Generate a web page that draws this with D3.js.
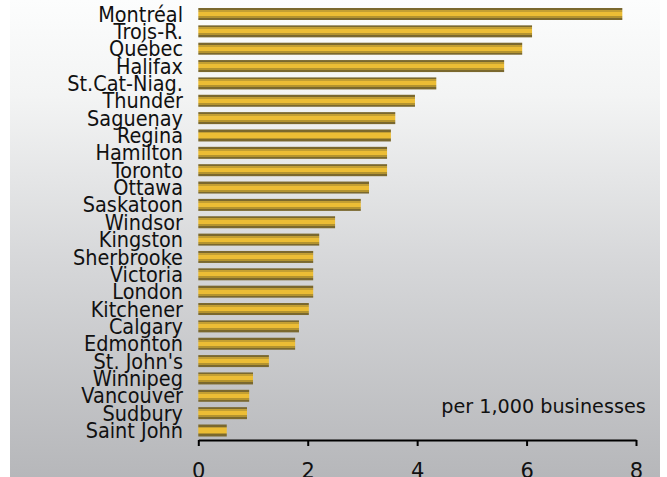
<!DOCTYPE html>
<html>
<head>
<meta charset="utf-8">
<script src="https://cdn.jsdelivr.net/npm/d3@7"></script>
<style>
  html, body { margin: 0; padding: 0; background: #ffffff; }
  svg { display: block; }
  text { font-family: "DejaVu Sans", Verdana, sans-serif; fill: #111; }
</style>
</head>
<body>
<svg id="chart" width="667" height="477"></svg>
<script>
// Cities, top to bottom
const cities = [
  "Montréal", "Trois-R.", "Québec", "Halifax", "St.Cat-Niag.", "Thunder",
  "Saguenay", "Regina", "Hamilton", "Toronto", "Ottawa", "Saskatoon",
  "Windsor", "Kingston", "Sherbrooke", "Victoria", "London", "Kitchener",
  "Calgary", "Edmonton", "St. John's", "Winnipeg", "Vancouver", "Sudbury",
  "Saint John"
];
// Rate per 1,000 businesses
const rates = [
  7.75, 6.10, 5.92, 5.59, 4.35, 3.96,
  3.60, 3.52, 3.45, 3.45, 3.12, 2.97,
  2.50, 2.21, 2.10, 2.10, 2.10, 2.02,
  1.84, 1.77, 1.29, 1.00, 0.93, 0.89,
  0.52
];
const xTicks = [0, 2, 4, 6, 8];
const unitLabel = "per 1,000 businesses";

const data = cities.map((c, i) => ({ city: c, value: rates[i] }));

const svg = d3.select("#chart");
const defs = svg.append("defs");

// Soft vertical backdrop, light at top fading to grey
const bg = defs.append("linearGradient")
  .attr("id", "bg").attr("x1", 0).attr("y1", 0).attr("x2", 0).attr("y2", 1);
bg.append("stop").attr("offset", "0%").attr("stop-color", "#fcfdfd");
bg.append("stop").attr("offset", "20%").attr("stop-color", "#f3f4f4");
bg.append("stop").attr("offset", "55%").attr("stop-color", "#d6d7d9");
bg.append("stop").attr("offset", "100%").attr("stop-color", "#b6b7ba");

svg.append("rect")
  .attr("x", 10).attr("y", 0)
  .attr("width", 650).attr("height", 477)
  .attr("fill", "url(#bg)");

// Banded gold fill for the bars
const barFill = defs.append("linearGradient")
  .attr("id", "barFill").attr("x1", 0).attr("y1", 0).attr("x2", 0).attr("y2", 1);
[
  [0, "#7a682e"], [0.17, "#7a682e"],
  [0.17, "#c39f33"], [0.33, "#c39f33"],
  [0.33, "#ecbd35"], [0.67, "#ecbd35"],
  [0.67, "#b3932f"], [0.83, "#b3932f"],
  [0.83, "#7a682e"], [1, "#7a682e"]
].forEach(([o, c]) => barFill.append("stop").attr("offset", o).attr("stop-color", c));

const x = d3.scaleLinear().domain([0, 8]).range([198.3, 636]);
const y = d3.scalePoint().domain(cities).range([14, 430.5]);
const barH = 12;

svg.append("g")
  .selectAll("rect")
  .data(data)
  .join("rect")
  .attr("x", x(0))
  .attr("y", d => y(d.city) - barH / 2)
  .attr("width", d => x(d.value) - x(0))
  .attr("height", barH)
  .attr("fill", "url(#barFill)");

// City labels: tall, slightly condensed type
svg.append("g")
  .selectAll("text")
  .data(data)
  .join("text")
  .attr("transform", d => `translate(183,${y(d.city)}) scale(0.92,1)`)
  .attr("dy", "0.36em")
  .attr("text-anchor", "end")
  .attr("font-size", 21)
  .text(d => d.city);

// Value axis
const axis = svg.append("g")
  .attr("transform", "translate(0,440)")
  .call(d3.axisBottom(x).tickValues(xTicks).tickSize(6).tickSizeOuter(0)
    .tickFormat(d3.format("d")));
axis.select(".domain").attr("stroke", "#000").attr("stroke-width", 2);
axis.selectAll(".tick line").attr("stroke", "#000").attr("stroke-width", 2);
axis.selectAll(".tick text")
  .attr("y", 38).attr("dy", null)
  .attr("font-size", 21)
  .attr("font-family", "DejaVu Sans, Verdana, sans-serif")
  .attr("fill", "#111");

svg.append("text")
  .attr("transform", "translate(645.7,413) scale(0.96,1)")
  .attr("text-anchor", "end")
  .attr("font-size", 20)
  .text(unitLabel);
</script>
</body>
</html>
